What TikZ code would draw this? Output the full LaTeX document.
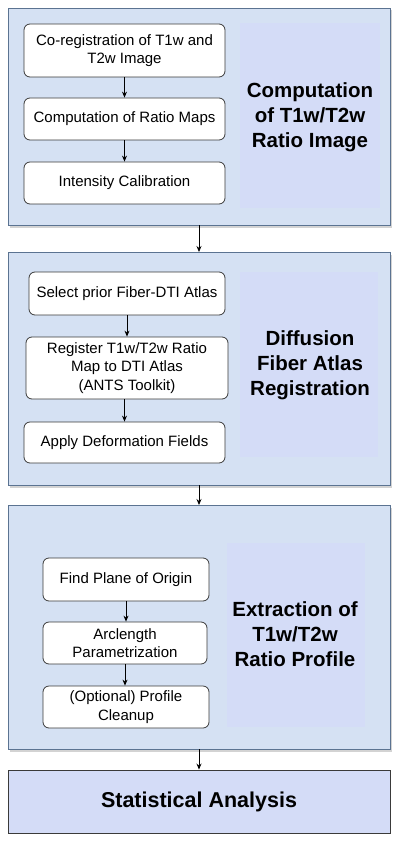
\documentclass[tikz,border=0pt]{standalone}
\usepackage{fontspec}
\setmainfont{Liberation Sans}
\usetikzlibrary{arrows.meta,shadows}
\definecolor{panelfill}{HTML}{D5E1F3}
\definecolor{paneldraw}{HTML}{5B7391}
\definecolor{titlefill}{HTML}{D4DCF7}
\definecolor{boxdraw}{HTML}{3A3A3A}
\tikzset{
  panel/.style={draw=paneldraw, line width=0.9pt, fill=panelfill, drop shadow={opacity=0.35, shadow xshift=2pt, shadow yshift=-2.5pt}},
  titlearea/.style={fill=titlefill, draw=none},
  stepbox/.style={draw=boxdraw, line width=0.8pt, fill=white, rounded corners=6pt, align=center, inner sep=1pt, font=\fontsize{15}{18.5}\selectfont},
  titletext/.style={align=center, font=\fontsize{20.5}{25}\selectfont\bfseries},
  arr/.style={draw=black, line width=0.8pt, -{Stealth[length=6pt,width=5pt]}},
}
\begin{document}
\begin{tikzpicture}[x=1pt,y=-1pt]
\useasboundingbox (0,0) rectangle (400,842);
% panels
\draw[panel] (8,8) rectangle (390,225);
\fill[titlearea] (240,23) rectangle (380,208);
\draw[panel] (8,252) rectangle (390,485);
\fill[titlearea] (240,272) rectangle (378,457);
\draw[panel] (8,505) rectangle (390,749);
\fill[titlearea] (227,543) rectangle (365,727);
\node[draw=boxdraw, line width=0.9pt, fill=titlefill, minimum width=382pt, minimum height=63pt, inner sep=0pt, font=\fontsize{21.5}{25}\selectfont\bfseries] (stats) at (199,801.5) {Statistical Analysis};
% invisible anchors for panels
\coordinate (p1b) at (199,225);
\coordinate (p2t) at (199,252);
\coordinate (p2b) at (199,485);
\coordinate (p3t) at (199,505);
\coordinate (p3b) at (199,749);
% titles
\node[titletext] (t1) at (310,117) {Computation\\of T1w/T2w\\Ratio Image};
\node[titletext] (t2) at (310,365) {Diffusion\\Fiber Atlas\\Registration};
\node[titletext] (t3) at (295,634) {Extraction of\\T1w/T2w\\Ratio Profile};
% panel 1 boxes
\node[stepbox, minimum width=201pt, minimum height=53pt] (a1) at (124.5,50.5) {Co-registration of T1w and\\T2w Image};
\node[stepbox, minimum width=201pt, minimum height=42pt] (a2) at (124.5,119) {Computation of Ratio Maps};
\node[stepbox, minimum width=201pt, minimum height=42pt] (a3) at (124.5,183) {Intensity Calibration};
% panel 2 boxes
\node[stepbox, minimum width=196pt, minimum height=43pt] (b1) at (127,293.5) {Select prior Fiber-DTI Atlas};
\node[stepbox, minimum width=202pt, minimum height=62pt] (b2) at (127,368) {Register T1w/T2w Ratio\\Map to DTI Atlas\\(ANTS Toolkit)};
\node[stepbox, minimum width=201pt, minimum height=41pt] (b3) at (124.5,442.5) {Apply Deformation Fields};
% panel 3 boxes
\node[stepbox, minimum width=166pt, minimum height=43pt] (c1) at (126,579.5) {Find Plane of Origin};
\node[stepbox, minimum width=164pt, minimum height=42pt] (c2) at (125,643) {Arclength\\Parametrization};
\node[stepbox, minimum width=166pt, minimum height=42pt] (c3) at (126,707) {(Optional) Profile\\Cleanup};
% arrows inside panels
\draw[arr] (a1.south) -- (a2.north);
\draw[arr] (a2.south) -- (a3.north);
\draw[arr] (b1.south) -- (b1.south |- b2.north);
\draw[arr] (b2.south -| b3.north) -- (b3.north);
\draw[arr] (c1.south) -- (c1.south |- c2.north);
\draw[arr] (c2.south) -- (c2.south |- c3.north);
% arrows between panels
\draw[arr] (p1b) -- (p2t);
\draw[arr] (p2b) -- (p3t);
\draw[arr] (p3b) -- (stats.north);
\end{tikzpicture}
\end{document}
